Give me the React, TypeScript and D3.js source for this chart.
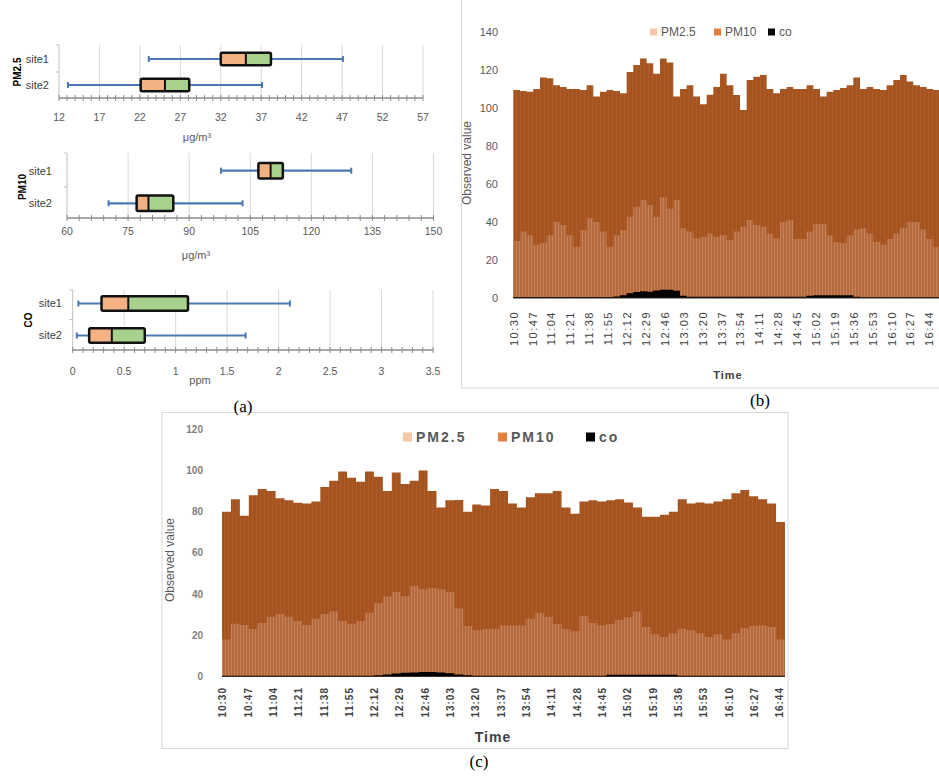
import React from "react";
import * as d3 from "d3";

// ---------- (a) box plots: [min, q1, median, q3, max] ----------
const siteNames = ["site1", "site2"];
const pm25Stats = [
  [23.1, 32.0, 35.1, 38.2, 47.1],
  [13.1, 22.1, 25.1, 28.1, 37.1],
];
const pm10Stats = [
  [97.8, 107.0, 110.0, 113.0, 129.8],
  [70.2, 77.1, 80.0, 86.1, 103.1],
];
const coStats = [
  [0.055, 0.28, 0.54, 1.12, 2.11],
  [0.04, 0.16, 0.38, 0.7, 1.68],
];
const pm25Ticks = [12, 17, 22, 27, 32, 37, 42, 47, 52, 57];
const pm10Ticks = [60, 75, 90, 105, 120, 135, 150];
const coTicks = [0, 0.5, 1, 1.5, 2, 2.5, 3, 3.5];

// ---------- (b), (c) time series (one value per 6-minute step from 10:30) ----------
const timeLabels = [
  "10:30", "10:47", "11:04", "11:21", "11:38", "11:55", "12:12", "12:29",
  "12:46", "13:03", "13:20", "13:37", "13:54", "14:11", "14:28", "14:45",
  "15:02", "15:19", "15:36", "15:53", "16:10", "16:27", "16:44",
];
const labelEveryMin = 17;
const sampleMinutes = 6;

const bPM10 = [
  109.5, 109, 108.6, 110, 116, 115.6, 112, 111, 110, 110,
  109.5, 112, 106, 108.6, 109.5, 109, 107.7, 119, 122.6, 126,
  123.5, 118, 126, 124, 106, 110, 112, 106, 102, 107,
  111, 118, 112, 106.8, 99, 114.7, 116.5, 117.4, 110, 107.7,
  110, 111, 110, 110, 112, 110, 106, 108.6, 109.5, 110.5,
  112, 116, 110, 111, 110, 109.5, 112, 114.7, 117.4, 113.9,
  112, 111, 110, 109.5,
];
const bPM25 = [
  30, 35, 33, 28, 29, 33, 40, 38.4, 33, 27,
  35.8, 42, 40, 35, 27, 33, 35.8, 42.8, 48, 51.6,
  49, 42.8, 53, 47, 51.6, 36.7, 35, 31.4, 32.3, 34,
  32.3, 33, 30.5, 35, 37.5, 41, 38.4, 37.5, 34, 31.4,
  40, 41, 31, 31, 35, 39, 39, 33, 29.5, 29,
  33, 36, 36.7, 34, 29.5, 28, 31, 34, 37, 40,
  40, 36, 31, 27,
];
const bCO = [
  0.5, 0.5, 0.5, 0.5, 0.5, 0.5, 0.5, 0.5, 0.5, 0.5,
  0.5, 0.5, 0.5, 0.5, 0.5, 0.8, 1.5, 2.5, 3.2, 3.5,
  3.3, 4.0, 4.3, 4.3, 3.8, 1.2, 0.6, 0.6, 0.6, 0.6,
  0.6, 0.6, 0.6, 0.6, 0.6, 0.6, 0.6, 0.6, 0.6, 0.6,
  0.6, 0.6, 0.6, 0.6, 1.2, 1.5, 1.5, 1.5, 1.5, 1.5,
  1.5, 0.6, 0.4, 0.4, 0.4, 0.4, 0.4, 0.4, 0.4, 0.4,
  0.4, 0.4, 0.4, 0.4,
];
const bYTicks = [0, 20, 40, 60, 80, 100, 120, 140];

const cPM10 = [
  80, 86, 78, 88, 91, 90, 86.5, 85.5, 84.3, 84,
  85, 92, 95, 99.5, 96.5, 94.5, 99.5, 97, 90, 99,
  93.5, 95, 100, 90, 82, 85.5, 85.7, 80, 83.5, 83,
  91, 90, 84, 82, 87, 89, 89, 90, 82, 79,
  85, 85.5, 85, 85.5, 86, 84.5, 82, 77.5, 77.5, 78.5,
  80, 86, 84, 84.5, 84, 85, 86, 89, 90.5, 87.5,
  86, 84, 75,
];
const cPM25 = [
  18, 25.6, 25, 23, 26, 29, 30.4, 29, 27, 25,
  28, 30.4, 31.5, 27, 25.6, 27, 31, 35.5, 38.8, 41,
  39, 44, 42.4, 43, 42.4, 41, 33, 24.5, 22.4, 23,
  23.2, 24.8, 24.8, 24.8, 28, 31, 29, 25.5, 23, 22,
  29.5, 26, 24.8, 25.5, 27.5, 28.8, 31.5, 24, 20.5, 19.2,
  21, 23.2, 22.5, 21, 19.2, 20.5, 18, 21, 23.5, 24.5,
  24.8, 24, 18,
];
const cCO = [
  0.4, 0.4, 0.4, 0.4, 0.4, 0.4, 0.4, 0.4, 0.4, 0.4,
  0.4, 0.4, 0.4, 0.4, 0.4, 0.4, 0.4, 0.6, 1.0, 1.5,
  1.8, 2.0, 2.2, 2.2, 2.0, 1.6, 1.0, 0.6, 0.4, 0.4,
  0.4, 0.4, 0.4, 0.4, 0.4, 0.4, 0.4, 0.4, 0.4, 0.4,
  0.4, 0.4, 0.4, 0.8, 0.8, 0.8, 0.8, 0.8, 0.8, 0.8,
  0.8, 0.4, 0.4, 0.4, 0.4, 0.4, 0.4, 0.4, 0.4, 0.4,
  0.4, 0.4, 0.4,
];
const cYTicks = [0, 20, 40, 60, 80, 100, 120];
const legendNames = ["PM2.5", "PM10", "co"];

const SANS = "'Liberation Sans', Arial, sans-serif";
const SERIF = "'Liberation Serif', 'Times New Roman', serif";

type BoxProps = {
  stats: number[][];
  ticks: number[];
  minorStep: number;
  x0: number;
  x1: number;
  top: number;
  axisY: number;
  rows: number[];
  boxH: number;
  title: string;
  titleX: number;
  titleY: number;
  catRight: number;
  tickY: number;
  unit: string;
  unitX: number;
  unitY: number;
};

function BoxPanel(p: BoxProps) {
  const lo = p.ticks[0];
  const hi = p.ticks[p.ticks.length - 1];
  const x = d3.scaleLinear().domain([lo, hi]).range([p.x0, p.x1]);
  const minors = d3.range(lo, hi + p.minorStep / 2, p.minorStep);
  const mid = (p.rows[0] + p.rows[1]) / 2;
  return (
    <g fontFamily={SANS}>
      {p.ticks.slice(1).map((t) => (
        <line key={"g" + t} x1={x(t)} x2={x(t)} y1={p.top} y2={p.axisY} stroke="#d9d9d9" strokeWidth={1} />
      ))}
      <line x1={p.x0} x2={p.x0} y1={p.top} y2={p.axisY} stroke="#bfbfbf" />
      {[p.top, mid].map((yy, i) => (
        <line key={"lt" + i} x1={p.x0 - 3} x2={p.x0} y1={yy} y2={yy} stroke="#bfbfbf" />
      ))}
      <line x1={p.x0} x2={p.x1} y1={p.axisY} y2={p.axisY} stroke="#8c8c8c" strokeWidth={1.3} />
      {minors.map((m, i) => (
        <line key={"m" + i} x1={x(m)} x2={x(m)} y1={p.axisY - 3} y2={p.axisY + 3} stroke="#8c8c8c" strokeWidth={1} />
      ))}
      {p.ticks.map((t) => (
        <text key={"t" + t} x={x(t)} y={p.tickY} textAnchor="middle" fontSize={10.5} fill="#595959">
          {t}
        </text>
      ))}
      <text x={p.unitX} y={p.unitY} textAnchor="middle" fontSize={11} fill="#595959">
        {p.unit}
      </text>
      {siteNames.map((s, i) => (
        <text key={s} x={p.catRight} y={p.rows[i]} dy="0.35em" textAnchor="end" fontSize={11} fill="#404040">
          {s}
        </text>
      ))}
      <text
        transform={`translate(${p.titleX},${p.titleY}) rotate(-90)`}
        textAnchor="middle"
        dy="0.35em"
        fontSize={10}
        fontWeight="bold"
        fill="#000"
      >
        {p.title}
      </text>
      {p.stats.map((s, i) => {
        const cy = p.rows[i];
        const [mn, q1, md, q3, mx] = s;
        const h = p.boxH;
        return (
          <g key={"b" + i}>
            <line x1={x(mn)} x2={x(mx)} y1={cy} y2={cy} stroke="#4a79b4" strokeWidth={2.2} />
            <line x1={x(mn)} x2={x(mn)} y1={cy - 3} y2={cy + 3} stroke="#4a79b4" strokeWidth={2} />
            <line x1={x(mx)} x2={x(mx)} y1={cy - 3} y2={cy + 3} stroke="#4a79b4" strokeWidth={2} />
            <rect x={x(q1)} y={cy - h / 2} width={x(md) - x(q1)} height={h} fill="#f4b183" />
            <rect x={x(md)} y={cy - h / 2} width={x(q3) - x(md)} height={h} fill="#a9d18e" />
            <line x1={x(md)} x2={x(md)} y1={cy - h / 2} y2={cy + h / 2} stroke="#111" strokeWidth={2} />
            <rect
              x={x(q1)}
              y={cy - h / 2}
              width={x(q3) - x(q1)}
              height={h}
              fill="none"
              stroke="#111"
              strokeWidth={2.5}
              rx={1.5}
            />
          </g>
        );
      })}
    </g>
  );
}

type TSProps = {
  id: string;
  pm10: number[];
  pm25: number[];
  co: number[];
  yTicks: number[];
  x0: number;
  x1: number;
  yBottom: number;
  yTopPx: number;
  yLabelX: number;
  yLabelY: number;
  tickRight: number;
  tickBold: boolean;
  tickFont: number;
  tickFill: string;
  xLabelTop: number;
  xLabelFont: number;
  xLabelBold: boolean;
  xLabelSpacing: number;
  timeX: number;
  timeY: number;
  timeFont: number;
  legendX: number[];
  legendY: number;
  legendFont: number;
  legendBold: boolean;
  legendSpacing: number;
  legendSq: number;
};

function TimeChart(p: TSProps) {
  const n = p.pm10.length;
  const x = d3.scaleLinear().domain([0, n * sampleMinutes]).range([p.x0, p.x1]);
  const yMax = p.yTicks[p.yTicks.length - 1];
  const y = d3.scaleLinear().domain([0, yMax]).range([p.yBottom, p.yTopPx]);
  const area = (vals: number[]) =>
    d3
      .area<number>()
      .x((_, i) => x(i * sampleMinutes))
      .y0(y(0))
      .y1((d) => y(d))
      .curve(d3.curveStepAfter)(vals.concat([vals[vals.length - 1]])) || "";
  const legendColors = ["#f4c7a6", "#e2813f", "#000000"];
  return (
    <g fontFamily={SANS}>
      <defs>
        <pattern id={p.id + "s25"} width={3} height={10} patternUnits="userSpaceOnUse">
          <rect width={3} height={10} fill="#b5683b" />
          <rect width={1} height={10} fill="#c4855b" />
        </pattern>
        <pattern id={p.id + "s10"} width={4} height={10} patternUnits="userSpaceOnUse">
          <rect width={4} height={10} fill="#a5541f" />
          <rect width={1} height={10} fill="#ab5c29" />
        </pattern>
      </defs>
      <path d={area(p.pm10)} fill={`url(#${p.id}s10)`} />
      <path d={area(p.pm25)} fill={`url(#${p.id}s25)`} />
      <path d={area(p.co)} fill="#000" />
      <line x1={p.x0} x2={p.x1} y1={y(0)} y2={y(0)} stroke="#3a2a20" strokeWidth={1.2} />
      {p.yTicks.map((t) => (
        <text
          key={"y" + t}
          x={p.tickRight}
          y={y(t)}
          dy="0.35em"
          textAnchor="end"
          fontSize={p.tickFont}
          fontWeight={p.tickBold ? "bold" : "normal"}
          fill={p.tickFill}
        >
          {t}
        </text>
      ))}
      {timeLabels.map((lab, i) => {
        const xx = x(i * labelEveryMin + 0.5);
        return (
          <text
            key={lab}
            transform={`translate(${xx},${p.xLabelTop}) rotate(-90)`}
            textAnchor="end"
            dy="0.35em"
            fontSize={p.xLabelFont}
            fontWeight={p.xLabelBold ? "bold" : "normal"}
            letterSpacing={p.xLabelSpacing}
            fill="#404040"
          >
            {lab}
          </text>
        );
      })}
      <text
        transform={`translate(${p.yLabelX},${p.yLabelY}) rotate(-90)`}
        textAnchor="middle"
        dy="0.35em"
        fontSize={12}
        fill="#595959"
      >
        Observed value
      </text>
      <text
        x={p.timeX}
        y={p.timeY}
        textAnchor="middle"
        dy="0.35em"
        fontSize={p.timeFont}
        fontWeight="bold"
        letterSpacing={1}
        fill="#404040"
      >
        Time
      </text>
      {legendNames.map((nm, i) => (
        <g key={nm}>
          <rect
            x={p.legendX[i]}
            y={p.legendY - p.legendSq / 2}
            width={p.legendSq}
            height={p.legendSq}
            fill={legendColors[i]}
          />
          <text
            x={p.legendX[i] + p.legendSq + 4}
            y={p.legendY}
            dy="0.35em"
            fontSize={p.legendFont}
            fontWeight={p.legendBold ? "bold" : "normal"}
            letterSpacing={p.legendSpacing}
            fill="#595959"
          >
            {nm}
          </text>
        </g>
      ))}
    </g>
  );
}

export default function App() {
  return (
    <svg
      width={939}
      height={776}
      style={{ position: "absolute", left: 0, top: 0, background: "#fff" }}
    >
      <rect width={939} height={776} fill="#fff" />
      {/* (a) */}
      <BoxPanel
        stats={pm25Stats}
        ticks={pm25Ticks}
        minorStep={1}
        x0={59}
        x1={423}
        top={45}
        axisY={98}
        rows={[59, 85]}
        boxH={12.5}
        title="PM2.5"
        titleX={17}
        titleY={72}
        catRight={49}
        tickY={121}
        unit="μg/m³"
        unitX={197}
        unitY={141}
      />
      <BoxPanel
        stats={pm10Stats}
        ticks={pm10Ticks}
        minorStep={3}
        x0={67}
        x1={433.5}
        top={153}
        axisY={218}
        rows={[170.7, 203.3]}
        boxH={15.5}
        title="PM10"
        titleX={22}
        titleY={187}
        catRight={52}
        tickY={235}
        unit="μg/m³"
        unitX={196}
        unitY={259}
      />
      <BoxPanel
        stats={coStats}
        ticks={coTicks}
        minorStep={0.1}
        x0={72.7}
        x1={433}
        top={290}
        axisY={350}
        rows={[303.5, 335.5]}
        boxH={14.5}
        title="CO"
        titleX={28}
        titleY={320}
        catRight={62}
        tickY={375}
        unit="ppm"
        unitX={200}
        unitY={384}
      />
      {/* (b) frame */}
      <rect x={461.5} y={-2} width={480} height={390} fill="none" stroke="#d9d9d9" />
      <TimeChart
        id="b"
        pm10={bPM10}
        pm25={bPM25}
        co={bCO}
        yTicks={bYTicks}
        x0={513.3}
        x1={940}
        yBottom={298}
        yTopPx={32}
        yLabelX={467}
        yLabelY={163}
        tickRight={498}
        tickBold={false}
        tickFont={11}
        tickFill="#595959"
        xLabelTop={311}
        xLabelFont={11}
        xLabelBold={false}
        xLabelSpacing={1.5}
        timeX={728}
        timeY={375}
        timeFont={11}
        legendX={[650, 714, 768]}
        legendY={32}
        legendFont={12}
        legendBold={false}
        legendSpacing={0}
        legendSq={7}
      />
      {/* (c) frame */}
      <rect x={162} y={412.5} width={626} height={336} fill="none" stroke="#d9d9d9" />
      <TimeChart
        id="c"
        pm10={cPM10}
        pm25={cPM25}
        co={cCO}
        yTicks={cYTicks}
        x0={222}
        x1={785}
        yBottom={676.5}
        yTopPx={429.3}
        yLabelX={170}
        yLabelY={560}
        tickRight={203}
        tickBold={true}
        tickFont={10}
        tickFill="#7f7f7f"
        xLabelTop={687}
        xLabelFont={10}
        xLabelBold={true}
        xLabelSpacing={1}
        timeX={493}
        timeY={737}
        timeFont={14}
        legendX={[403, 498, 586]}
        legendY={437}
        legendFont={14}
        legendBold={true}
        legendSpacing={2}
        legendSq={9}
      />
      <g fontFamily={SERIF} fontSize={17} fill="#000" textAnchor="middle">
        <text x={243} y={412}>(a)</text>
        <text x={760} y={406}>(b)</text>
        <text x={479} y={767}>(c)</text>
      </g>
    </svg>
  );
}
